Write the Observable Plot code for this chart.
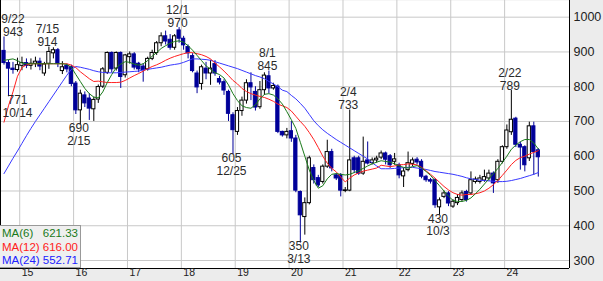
<!DOCTYPE html>
<html><head><meta charset="utf-8">
<script src="https://cdn.jsdelivr.net/npm/d3@7"></script>
<script src="https://cdn.jsdelivr.net/npm/@observablehq/plot@0.6"></script>
<style>
html,body{margin:0;padding:0;background:#fff;}
#wrap{position:relative;width:603px;height:281px;overflow:hidden;}
#legend{position:absolute;left:0;top:225px;width:81px;height:43px;background:#efefef;border:1px solid #999;border-left:none;box-sizing:border-box;font:11.5px "Liberation Sans",Arial,sans-serif;padding:1px 2px 0 2px;}
#legend .row{display:flex;justify-content:space-between;height:13.5px;line-height:13.5px;}
</style></head>
<body>
<div id="wrap"><div id="chart"></div><div id="legend"></div></div>
<script>
// monthly candles, first month = 2014-09
const startYear = 2014, startMonth = 9;
const open  = [903,868,852,848,860,868,860,866,872,838, 866,896,905,845,860,856,809,732,775,766,
               735,763,800,840,897,852,897,833,885,893, 866,858,850,880,897,925,945,935,912,962,
               938,914,888,838,808,852,838,865,822,813, 785,718,670,730,760,810,785,741,790,830,
               795,800,670,660,672,651,497,425,465,566, 537,526,570,612,545,545,500,501,594,594,
               550,588,580,588,596,608,600,584,574,542, 560,578,590,584,541,531,531,453,483,493,
               455,465,474,497,493,526,526,530,536,550, 531,584,626,669,708,633,626,594,686,617];
const high  = [943,876,870,882,885,880,880,885,882,870, 914,912,910,872,865,862,815,790,785,780,
               770,805,855,900,900,900,900,893,900,898, 870,866,885,905,930,955,960,950,950,970,
               945,920,895,845,862,870,876,875,830,820, 790,725,740,770,820,840,800,815,840,845,
               810,805,672,680,700,660,500,480,600,575, 545,575,646,620,550,550,510,733,600,600,
               655,641,595,600,615,612,605,608,580,565, 612,595,596,590,545,536,535,480,500,498,
               475,490,500,502,555,540,545,560,560,555, 590,630,690,789,712,640,630,698,698,622];
const low   = [862,771,836,842,846,852,848,855,846,830, 850,880,855,835,840,800,720,690,740,703,
               700,752,795,835,840,845,795,825,865,848, 840,813,845,875,890,915,920,905,905,925,
               905,880,840,780,790,820,804,830,805,775, 700,605,660,715,750,760,730,735,775,780,
               790,665,655,650,640,495,350,373,460,520, 510,520,565,555,530,483,495,498,550,545,
               545,575,575,580,590,575,565,574,535,510, 555,570,575,535,525,520,450,430,478,455,
               450,458,468,468,488,520,520,525,528,493, 522,578,620,660,625,560,555,585,545,540];
const close = [868,852,848,862,868,860,866,872,858,864, 900,905,866,856,850,808,732,780,752,737,
               762,799,850,897,850,897,828,890,893,855, 850,848,880,897,925,945,930,912,945,938,
               919,896,845,798,856,838,852,838,812,789, 722,675,730,760,810,798,740,790,832,795,
               802,670,660,670,651,501,430,465,594,531, 516,570,612,565,536,501,502,588,560,550,
               584,579,588,593,608,590,574,591,545,556, 580,588,582,541,531,527,459,473,493,464,
               469,480,493,474,531,533,536,540,550,522, 584,626,674,705,633,625,574,686,612,597];
const ma6  = [876,878,880,875,868,866,866,866,866,866, 866,866,866,866,864,856,835,815,795,780,
              770,768,785,812,835,855,865,872,870,865, 862,866,875,888,898,910,918,925,930,932,
              928,918,905,890,875,860,850,840,835,825, 805,780,760,745,740,738,748,765,778,780,
              776,765,750,728,705,680,640,600,560,530, 508,515,535,548,550,548,546,548,553,558,
              565,572,578,583,587,585,583,578,572,568, 566,570,573,566,556,545,530,515,500,485,
              473,470,470,473,480,492,505,520,535,550, 565,582,600,620,632,642,648,648,638,621];
const ma12 = [698,745,785,830,855,863,866,866,866,866, 866,866,866,866,866,862,855,843,833,823,
              815,816,814,812,812,812,813,818,825,832, 838,845,852,858,863,869,876,882,887,891,
              895,898,898,895,892,887,880,868,857,845, 832,818,808,795,786,780,776,772,769,764,
              758,750,745,740,730,715,700,686,668,648, 625,600,580,565,555,540,526,537,546,552,
              557,560,563,566,574,572,570,572,575,576, 578,577,575,568,558,548,537,525,513,503,
              495,490,488,490,490,492,495,500,508,518, 530,545,560,576,588,596,600,606,611,616];
const ma24 = [550,572,594,615,637,659,680,700,719,738, 757,776,795,814,833,850,858,856,853,850,
              846,843,841,840,840,840,841,842,843,844, 845,848,850,852,854,856,859,862,864,866,
              870,875,880,880,879,878,876,872,868,864, 860,856,852,847,842,837,832,828,823,815,
              808,800,790,786,775,765,752,738,720,702, 688,676,666,657,648,640,632,624,616,608,
              600,592,581,572,564,564,564,565,566,567, 568,568,566,564,562,559,556,554,552,550,
              548,545,542,538,535,533,531,530,529,528, 527,527,528,530,533,536,540,544,548,553];
const yearLabels = ["15","16","17","18","19","20","21","22","23","24"];
const yTicks = [300,400,500,600,700,800,900,1000];
const annIndex = [0,1,10,17,39,51,59,66,77,97,113];
const annDate  = ["9/22","10/14","7/15","2/15","12/1","12/25","8/1","3/13","2/4","10/3","2/22"];
const annValue = [943,771,914,690,970,605,845,350,733,430,789];
const annSide  = ["high","low","high","low","high","low","high","low","high","low","high"];
const maNames  = ["MA(6)","MA(12)","MA(24)"];
const maLast   = ["621.33","616.00","552.71"];

const BLUE = "#000099";
const candles = open.map((o,i)=>({i, open:o, high:high[i], low:low[i], close:close[i]}));
const up = candles.filter(d=>d.close>=d.open), down = candles.filter(d=>d.close<d.open);
const janIdx = yearLabels.map(y => (2000 + (+y) - startYear)*12 + (1 - startMonth));
const ann = annIndex.map((i,k)=>({i, date:annDate[k], value:annValue[k], side:annSide[k]}));
const annEdge = ann.filter(d=>d.i<2), annMid = ann.filter(d=>d.i>=2);
const line = arr => arr.map((v,i)=>({i, v}));
const xDom = [-0.78, 125.95], yDom = [277, 1048];
const txt = {fontSize:12, fill:"#2a2a2a", lineHeight:1.08};
function annMarks(data, dx){
  const hi = data.filter(d=>d.side==="high"), lo = data.filter(d=>d.side==="low");
  return [
    Plot.text(hi, {x:"i", y:"value", text:d=>d.date+"\n"+d.value, lineAnchor:"bottom", dy:-1, dx, ...txt}),
    Plot.text(lo, {x:"i", y:"value", text:d=>d.value+"\n"+d.date, lineAnchor:"top", dy:-2, dx, ...txt})
  ];
}
const chart = Plot.plot({
  width:603, height:281, marginLeft:0, marginRight:34, marginTop:0, marginBottom:13,
  x:{type:"linear", domain:xDom, axis:null},
  y:{type:"linear", domain:yDom, axis:null},
  style:{background:"#ececec", fontFamily:"'Liberation Sans', Arial, sans-serif"},
  marks:[
    Plot.frame({fill:"white", stroke:null}),
    Plot.ruleY(yTicks, {stroke:"#c8c8c8"}),
    Plot.ruleX(janIdx.map(i=>i-0.5), {stroke:"#c8c8c8"}),
    Plot.ruleX(up, {x:"i", y1:"low", y2:"high", stroke:"black"}),
    Plot.ruleX(down, {x:"i", y1:"low", y2:"high", stroke:BLUE}),
    Plot.rect(up, {x1:d=>d.i-0.36, x2:d=>d.i+0.36, y1:"open", y2:"close", fill:"white", stroke:"black"}),
    Plot.rect(down, {x1:d=>d.i-0.36, x2:d=>d.i+0.36, y1:"open", y2:"close", fill:BLUE, stroke:BLUE}),
    Plot.line(line(ma24), {x:"i", y:"v", stroke:"#3838ff", strokeWidth:1}),
    Plot.line(line(ma12), {x:"i", y:"v", stroke:"#ff2020", strokeWidth:1}),
    Plot.line(line(ma6), {x:"i", y:"v", stroke:"#1a7a1a", strokeWidth:1}),
    ...annMarks(annMid, -1.5),
    ...annMarks(annEdge, 9),
    Plot.ruleX([xDom[0], xDom[1]], {stroke:"black"}),
    Plot.ruleY([yDom[0]], {stroke:"black"}),
    Plot.text(yTicks, {y:d=>d, text:d=>String(d), frameAnchor:"right", textAnchor:"start", dx:4, fontSize:12.5, fill:"#222"}),
    Plot.text(yearLabels, {x:(d,k)=>janIdx[k]-0.5, text:d=>d, frameAnchor:"bottom", textAnchor:"start", dx:2, dy:7.5, fontSize:10.5, fill:"#222"})
  ]
});
document.getElementById("chart").appendChild(chart);
const colors = ["#1a7a1a","#ff2020","#2020ff"];
document.getElementById("legend").innerHTML = maNames.map((n,k)=>
  `<div class="row" style="color:${colors[k]}"><span>${n}</span><span>${maLast[k]}</span></div>`).join("");
</script>
</body></html>
